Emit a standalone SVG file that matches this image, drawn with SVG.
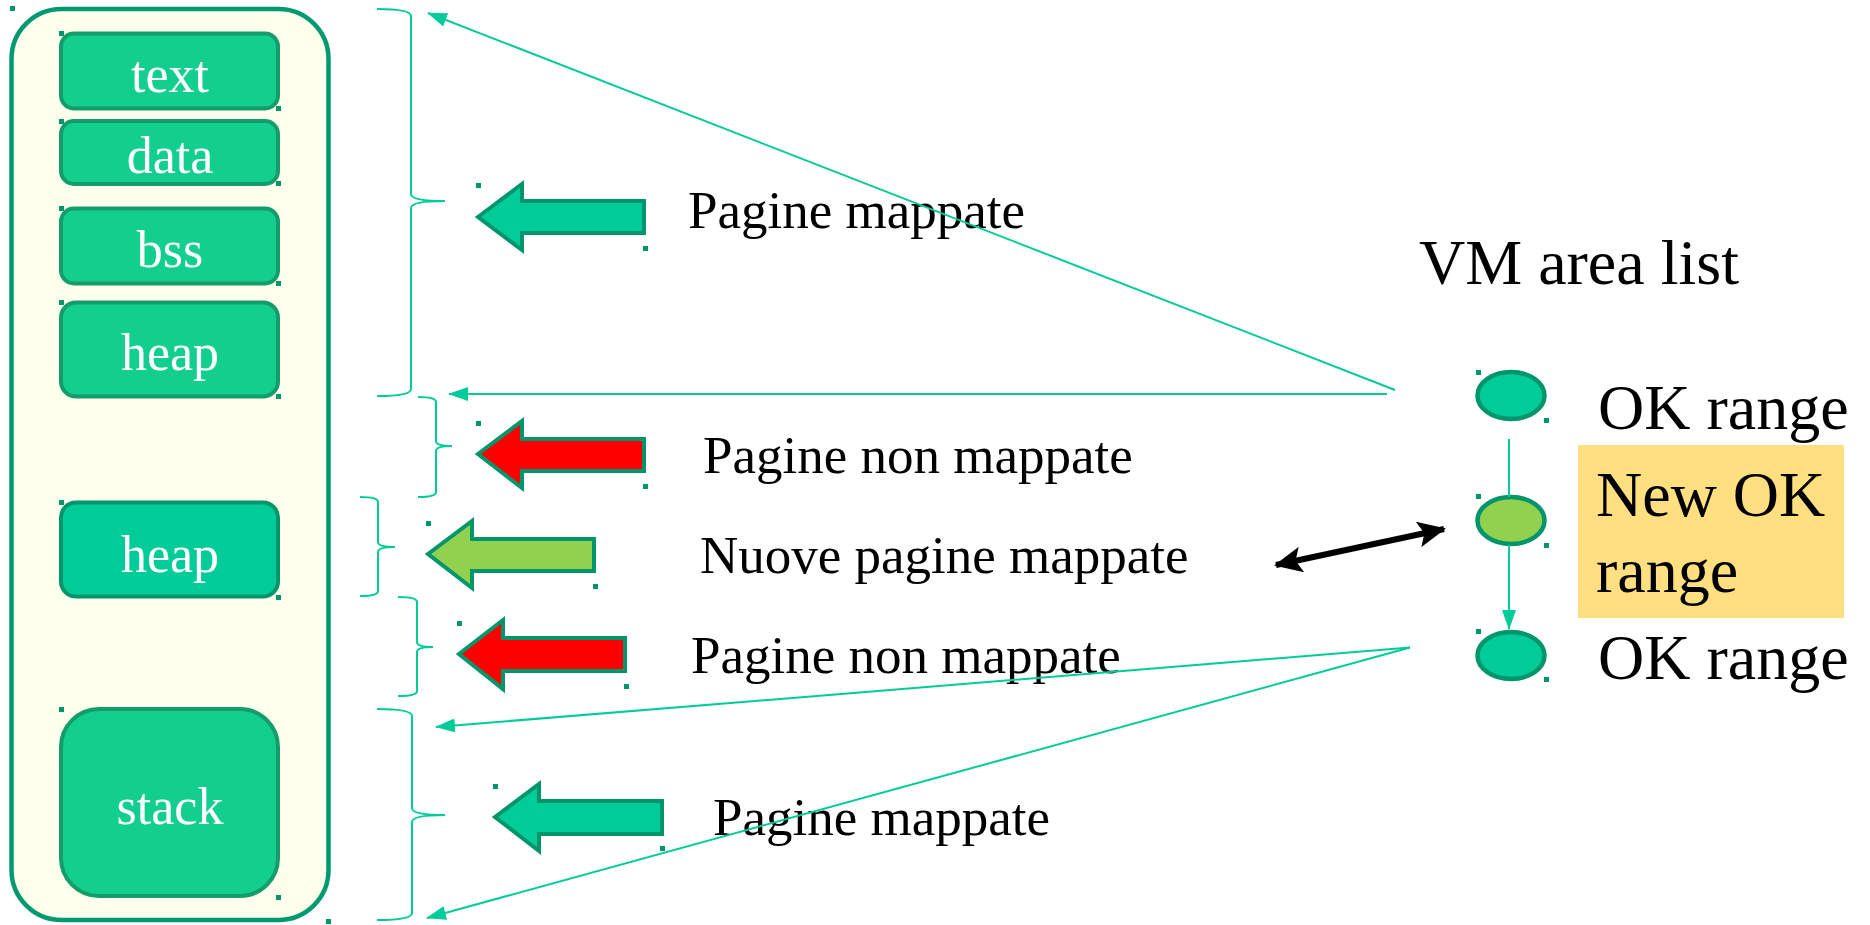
<svg xmlns="http://www.w3.org/2000/svg" width="1870" height="925" viewBox="0 0 1870 925">
<style>
.seg{fill:#13CF8E;stroke:#149C6A;stroke-width:4}
.seg2{fill:#00CC99;stroke:#00956B;stroke-width:4}
.lbl{font-family:"Liberation Serif",serif;font-size:52px;fill:#FFFFFF;text-anchor:middle}
.txt{font-family:"Liberation Serif",serif;font-size:53px;fill:#000000}
.big{font-family:"Liberation Serif",serif;font-size:64px;fill:#000000}
.brace{fill:none;stroke:#00CC99;stroke-width:2}
.conn{fill:none;stroke:#00CC99;stroke-width:2}
.barrow{stroke:#00956B;stroke-width:4;stroke-linejoin:miter}
.node{stroke:#00956B;stroke-width:4.5}
.mk{fill:#00956B}
</style>
<defs>
<marker id="ah" markerUnits="userSpaceOnUse" markerWidth="20" markerHeight="14" refX="19" refY="7" orient="auto">
<path d="M0,0 L20,7 L0,14 z" fill="#00CC99"/>
</marker>
<marker id="bh" markerUnits="userSpaceOnUse" markerWidth="28" markerHeight="26" refX="26" refY="13" orient="auto-start-reverse">
<path d="M0,0 L28,13 L0,26 L6,13 z" fill="#000000"/>
</marker>
</defs>
<rect width="1870" height="925" fill="#FFFFFF"/>

<g id="process">
<rect x="11.5" y="9" width="317" height="911" rx="50" ry="50" fill="#FFFFEE" stroke="#009970" stroke-width="4.5"/>
</g>
<g id="seg-text"><rect class="seg" x="61" y="33.5" width="217" height="75" rx="13"/><text class="lbl" x="170" y="92">text</text></g>
<g id="seg-data"><rect class="seg" x="61" y="121" width="217" height="63" rx="13"/><text class="lbl" x="170" y="173">data</text></g>
<g id="seg-bss"><rect class="seg" x="61" y="208.5" width="217" height="75" rx="13"/><text class="lbl" x="170" y="267">bss</text></g>
<g id="seg-heap"><rect class="seg" x="61" y="302.5" width="217" height="94" rx="15"/><text class="lbl" x="170" y="370">heap</text></g>
<g id="seg-heap2"><rect class="seg2" x="61" y="502.5" width="217" height="94" rx="15"/><text class="lbl" x="170" y="572">heap</text></g>
<g id="seg-stack"><rect class="seg" x="61" y="709" width="217" height="187" rx="38"/><text class="lbl" x="170" y="824">stack</text></g>

<g id="braces">
<path class="brace" d="M377,9 Q411,9 411,16 L411,194 Q411,201 445,201 Q411,201 411,208 L411,389 Q411,396 377,396"/>
<path class="brace" d="M418,397 Q436,397 436,402 L436,441 Q436,446 452,446 Q436,446 436,451 L436,492 Q436,497 418,497"/>
<path class="brace" d="M360,497 Q378,497 378,502 L378,542 Q378,547 395,547 Q378,547 378,552 L378,591 Q378,596 360,596"/>
<path class="brace" d="M398,597 Q417,597 417,602 L417,642 Q417,647 433,647 Q417,647 417,652 L417,691 Q417,696 398,696"/>
<path class="brace" d="M377,709 Q412,709 412,716 L412,808 Q412,815 445,815 Q412,815 412,822 L412,913 Q412,920 377,920"/>
</g>

<g id="arrow-mapped-1"><polygon class="barrow" fill="#00CC99" points="478,217 522,184 522,201 644,201 644,233 522,233 522,250"/></g>
<g id="arrow-unmapped-1"><polygon class="barrow" fill="#FF0000" points="478,454 522,421 522,439 644,439 644,471 522,471 522,488"/></g>
<g id="arrow-new"><polygon class="barrow" fill="#92D050" points="428,554 472,521 472,539 594,539 594,571 472,571 472,588"/></g>
<g id="arrow-unmapped-2"><polygon class="barrow" fill="#FF0000" points="459,654 503,620 503,638 625,638 625,671 503,671 503,689"/></g>
<g id="arrow-mapped-2"><polygon class="barrow" fill="#00CC99" points="495,817 539,784 539,801 662,801 662,834 539,834 539,851"/></g>

<g id="labels">
<text class="txt" x="688" y="228">Pagine mappate</text>
<text class="txt" x="703" y="473">Pagine non mappate</text>
<text class="txt" x="700" y="573">Nuove pagine mappate</text>
<text class="txt" x="691" y="673">Pagine non mappate</text>
<text class="txt" x="713" y="835">Pagine mappate</text>
</g>

<g id="vm-title"><text class="big" x="1419" y="284">VM area list</text></g>
<g id="new-range-box"><rect x="1578" y="445" width="266" height="173" fill="#FFDF80"/></g>
<g id="vma-1"><ellipse class="node" cx="1511" cy="395.5" rx="33.5" ry="23.5" fill="#00CC99"/><text class="big" x="1598" y="429">OK range</text></g>
<g id="vma-new"><ellipse class="node" cx="1511" cy="520.5" rx="33.5" ry="23.5" fill="#92D050"/><text class="big" x="1596" y="516">New OK</text><text class="big" x="1596" y="592">range</text></g>
<g id="vma-2"><ellipse class="node" cx="1511" cy="655.5" rx="33.5" ry="23.5" fill="#00CC99"/><text class="big" x="1598" y="679">OK range</text></g>

<g id="connectors">
<line class="conn" x1="1395" y1="390" x2="428" y2="13" marker-end="url(#ah)"/>
<line class="conn" x1="1387" y1="394" x2="449" y2="394" marker-end="url(#ah)"/>
<line class="conn" x1="1410" y1="647.5" x2="436" y2="727" marker-end="url(#ah)"/>
<line class="conn" x1="1410" y1="647.5" x2="427" y2="918" marker-end="url(#ah)"/>
<line class="conn" x1="1509" y1="439" x2="1509" y2="497"/>
<line class="conn" x1="1509" y1="545" x2="1509" y2="629" marker-end="url(#ah)"/>
<line x1="1276" y1="565" x2="1444" y2="529" stroke="#000000" stroke-width="6" marker-start="url(#bh)" marker-end="url(#bh)"/>
</g>

<g id="handles">
<rect class="mk" x="10" y="6" width="5" height="5"/><rect class="mk" x="326" y="919" width="5" height="5"/>
<rect class="mk" x="59" y="31" width="5" height="5"/><rect class="mk" x="276" y="106" width="5" height="5"/>
<rect class="mk" x="59" y="119" width="5" height="5"/><rect class="mk" x="276" y="181" width="5" height="5"/>
<rect class="mk" x="59" y="206" width="5" height="5"/><rect class="mk" x="276" y="281" width="5" height="5"/>
<rect class="mk" x="59" y="300" width="5" height="5"/><rect class="mk" x="276" y="394" width="5" height="5"/>
<rect class="mk" x="59" y="500" width="5" height="5"/><rect class="mk" x="276" y="595" width="5" height="5"/>
<rect class="mk" x="59" y="707" width="5" height="5"/><rect class="mk" x="276" y="895" width="5" height="5"/>
<rect class="mk" x="476" y="183" width="5" height="5"/><rect class="mk" x="643" y="246" width="5" height="5"/>
<rect class="mk" x="476" y="421" width="5" height="5"/><rect class="mk" x="643" y="484" width="5" height="5"/>
<rect class="mk" x="426" y="521" width="5" height="5"/><rect class="mk" x="593" y="584" width="5" height="5"/>
<rect class="mk" x="457" y="621" width="5" height="5"/><rect class="mk" x="624" y="684" width="5" height="5"/>
<rect class="mk" x="493" y="784" width="5" height="5"/><rect class="mk" x="660" y="846" width="5" height="5"/>
<rect class="mk" x="1476" y="370" width="5" height="5"/><rect class="mk" x="1544" y="418" width="5" height="5"/>
<rect class="mk" x="1476" y="494" width="5" height="5"/><rect class="mk" x="1544" y="543" width="5" height="5"/>
<rect class="mk" x="1476" y="629" width="5" height="5"/><rect class="mk" x="1544" y="677" width="5" height="5"/>
</g>
</svg>
